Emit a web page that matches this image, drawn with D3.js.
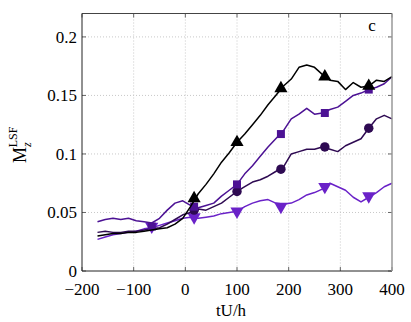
<!DOCTYPE html>
<html>
<head>
<meta charset="utf-8">
<script src="https://cdn.jsdelivr.net/npm/d3@7"></script>
<style>
  body { margin: 0; background: #fff; }
  text { font-family: "Liberation Serif", "DejaVu Serif", serif; }
</style>
</head>
<body>
<svg id="chart" width="411" height="322"></svg>
<script>
// sample times (tU/h)
const tGrid = [-170, -155, -140, -125, -110, -95, -80, -65, -50, -35, -20, -5, 10, 25, 40, 55, 70, 85, 100,
  115, 130, 145, 160, 175, 190, 205, 220, 235, 250, 265, 280, 295, 310, 325, 340, 355, 370, 385, 400];

const triVals = [.030, .031, .032, .032, .033, .033, .034, .035, .036, .037, .040, .045, .055, .066, .074, .083, .093, .101, .110,
  .117, .125, .133, .142, .150, .158, .164, .174, .176, .174, .168, .163, .162, .155, .161, .157, .158, .163, .162, .166];
const sqVals = [.042, .044, .045, .044, .045, .043, .042, .041, .045, .052, .058, .060, .056, .054, .056, .058, .064, .069, .074,
  .083, .090, .098, .106, .113, .120, .130, .134, .139, .134, .135, .138, .140, .145, .150, .152, .155, .157, .160, .166];
const circVals = [.033, .034, .033, .033, .034, .034, .035, .036, .037, .040, .044, .048, .050, .053, .052, .055, .058, .063, .068,
  .072, .076, .078, .081, .085, .089, .100, .102, .104, .104, .106, .104, .102, .107, .110, .113, .122, .130, .133, .130];
const dtriVals = [.027, .029, .031, .032, .033, .034, .036, .037, .039, .041, .043, .045, .046, .045, .046, .047, .049, .050, .051,
  .055, .058, .060, .061, .058, .057, .058, .061, .065, .067, .070, .075, .072, .069, .063, .059, .063, .067, .072, .075];

// marker positions
const markT = [-65, 17, 100, 185, 270, 355];
const triMarks = [null, .062, .110, .156, .166, .158];
const sqMarks = [.038, .055, .074, .117, .135, .155];
const circMarks = [null, .052, .068, .087, .106, .122];
const dtriMarks = [.038, .046, .051, .055, .072, .064];

const xTicks = [-200, -100, 0, 100, 200, 300, 400];
const yTicks = [0, 0.05, 0.1, 0.15, 0.2];

const series = [
  {vals: dtriVals, marks: dtriMarks, color: "#6a22c8", shape: "dtri"},
  {vals: circVals, marks: circMarks, color: "#2e0a52", shape: "circ"},
  {vals: sqVals, marks: sqMarks, color: "#4c1294", shape: "sq"},
  {vals: triVals, marks: triMarks, color: "#000000", shape: "tri"}
];

const svg = d3.select("#chart");
const L = 82, R = 392, T = 13.5, B = 271;

const x = d3.scaleLinear().domain([-200, 400]).range([L, R]);
const y = d3.scaleLinear().domain([0, 0.22]).range([B, T]);

// grid
svg.append("g").selectAll("line.gx")
  .data(xTicks.slice(1, -1))
  .join("line")
  .attr("x1", d => x(d)).attr("x2", d => x(d))
  .attr("y1", T).attr("y2", B)
  .attr("stroke", "#c8c8c8").attr("stroke-dasharray", "1,2");
svg.append("g").selectAll("line.gy")
  .data(yTicks.slice(1))
  .join("line")
  .attr("x1", L).attr("x2", R)
  .attr("y1", d => y(d)).attr("y2", d => y(d))
  .attr("stroke", "#c8c8c8").attr("stroke-dasharray", "1,2");

// mirrored inner ticks
const tk = svg.append("g").attr("stroke", "#666");
xTicks.forEach(d => {
  tk.append("line").attr("x1", x(d)).attr("x2", x(d)).attr("y1", B).attr("y2", B - 4);
  tk.append("line").attr("x1", x(d)).attr("x2", x(d)).attr("y1", T).attr("y2", T + 4);
});
yTicks.forEach(d => {
  tk.append("line").attr("x1", L).attr("x2", L + 4).attr("y1", y(d)).attr("y2", y(d));
  tk.append("line").attr("x1", R).attr("x2", R - 4).attr("y1", y(d)).attr("y2", y(d));
});

// lines + markers
const line = d3.line().x((d, i) => x(tGrid[i])).y(d => y(d));
const sym = {
  tri: d3.symbol().type(d3.symbolTriangle).size(75),
  dtri: d3.symbol().type(d3.symbolTriangle).size(75),
  sq: d3.symbol().type(d3.symbolSquare).size(64),
  circ: d3.symbol().type(d3.symbolCircle).size(70)
};

series.forEach(s => {
  svg.append("path")
    .datum(s.vals)
    .attr("d", line)
    .attr("fill", "none")
    .attr("stroke", s.color)
    .attr("stroke-width", 1.5)
    .attr("stroke-linejoin", "round");
  svg.append("g").selectAll("path")
    .data(markT.map((t, i) => [t, s.marks[i]]).filter(d => d[1] != null))
    .join("path")
    .attr("d", sym[s.shape])
    .attr("transform", d => `translate(${x(d[0])},${y(d[1])})` + (s.shape === "dtri" ? " rotate(180)" : ""))
    .attr("fill", s.color);
});

// frame
svg.append("line").attr("x1", L).attr("x2", R).attr("y1", T).attr("y2", T).attr("stroke", "#444");
svg.append("line").attr("x1", L).attr("x2", L).attr("y1", T).attr("y2", B).attr("stroke", "#222");
svg.append("line").attr("x1", L).attr("x2", R).attr("y1", B).attr("y2", B).attr("stroke", "#222");
svg.append("line").attr("x1", R).attr("x2", R).attr("y1", T).attr("y2", B).attr("stroke", "#999").attr("stroke-width", 1.5);

// tick labels
const fmtX = d => d < 0 ? "\u2212" + Math.abs(d) : String(d);
svg.append("g").selectAll("text")
  .data(xTicks)
  .join("text")
  .attr("x", d => x(d)).attr("y", 295)
  .attr("text-anchor", "middle")
  .attr("font-size", 17)
  .text(fmtX);
svg.append("g").selectAll("text")
  .data(yTicks)
  .join("text")
  .attr("x", L - 5).attr("y", d => y(d) + 6)
  .attr("text-anchor", "end")
  .attr("font-size", 17)
  .text(d => String(d));

// axis titles
svg.append("text")
  .attr("x", 231).attr("y", 316)
  .attr("text-anchor", "middle")
  .attr("font-size", 17)
  .text("tU/h");

const yl = svg.append("text")
  .attr("transform", "translate(26,163) rotate(-90)")
  .attr("font-size", 18);
yl.append("tspan").text("M");
yl.append("tspan").attr("font-size", 12).attr("font-style", "italic").attr("dy", 5).text("z");
yl.append("tspan").attr("font-size", 12).attr("dx", -5).attr("dy", -14).text("LSF");

svg.append("text")
  .attr("x", 372).attr("y", 31)
  .attr("text-anchor", "middle")
  .attr("font-size", 17)
  .text("c");
</script>
</body>
</html>
